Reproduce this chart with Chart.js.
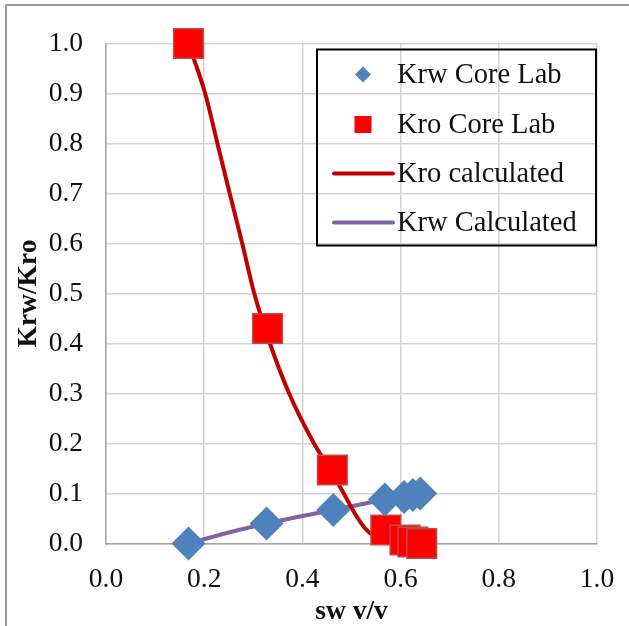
<!DOCTYPE html>
<html>
<head>
<meta charset="utf-8">
<script src="https://cdn.jsdelivr.net/npm/chart.js@4.4.1/dist/chart.umd.min.js"></script>
<style>
    html, body { margin: 0; padding: 0; background: #fff; overflow: hidden; }
    #wrap { position: relative; width: 629px; height: 626px; }
    #frame {
        position: absolute; left: 5px; top: 4px; width: 700px; height: 700px;
        border-top: 2px solid #9a9a9a; border-left: 2px solid #9a9a9a;
    }
    canvas { position: absolute; left: 0; top: 0; }
</style>
</head>
<body>
<div id="wrap">
    <div id="frame"></div>
    <canvas id="chart" width="629" height="626"></canvas>
</div>
<script>
// Core lab measurements
const swKrwLab = [0.168, 0.327, 0.463, 0.568, 0.607, 0.625, 0.640];
const krwLab = [0.000, 0.040, 0.067, 0.088, 0.093, 0.097, 0.100];
const swKroLab = [0.168, 0.329, 0.461, 0.570, 0.609, 0.625, 0.643];
const kroLab = [1.000, 0.430, 0.147, 0.027, 0.007, 0.003, 0.000];

// Calculated curves
const swKroCalc = [0.168, 0.202, 0.227, 0.252, 0.2775, 0.302, 0.334, 0.373, 0.4237, 0.455, 0.481, 0.508, 0.528, 0.548, 0.565];
const kroCalc = [1.000, 0.900, 0.800, 0.700, 0.600, 0.500, 0.400, 0.300, 0.200, 0.150, 0.106, 0.058, 0.030, 0.013, 0.005];
const swKrwCalc = [0.168, 0.250, 0.327, 0.400, 0.463, 0.568];
const krwCalc = [0.000, 0.022, 0.040, 0.055, 0.067, 0.088];

const xTicks = [0, 0.2, 0.4, 0.6, 0.8, 1.0];
const yTicks = [0, 0.1, 0.2, 0.3, 0.4, 0.5, 0.6, 0.7, 0.8, 0.9, 1.0];

const SERIES_NAMES = ['Krw Core Lab', 'Kro Core Lab', 'Kro calculated', 'Krw Calculated'];

const COLORS = {
    blue: '#4f81bd',
    red: '#ff0000',
    redBorder: '#be4b48',
    darkRed: '#c00000',
    purple: '#8064a2',
    grid: '#d4d4d4',
    axis: '#a6a6a6',
    text: '#111111'
};

const FONT = 'Liberation Serif, "Times New Roman", serif';

function toPoints(xs, ys) {
    return xs.map((x, i) => ({ x: x, y: ys[i] }));
}

// Legend box drawn inside the plot area, gridlines stay visible through it
const insideLegend = {
    id: 'insideLegend',
    afterDatasetsDraw(chart) {
        const ctx = chart.ctx;
        const area = chart.chartArea;
        const boxW = 279, boxH = 196;
        const left = area.right - 1 - boxW;
        const top = area.top + 6;
        ctx.save();
        ctx.strokeStyle = '#000';
        ctx.lineWidth = 2;
        ctx.strokeRect(left, top, boxW, boxH);

        const rows = [25, 75, 124, 173];
        const mx = left + 46;
        ctx.font = '28.5px ' + FONT;
        ctx.textBaseline = 'middle';
        ctx.textAlign = 'left';
        chart.data.datasets.forEach((ds, i) => {
            const y = top + rows[i];
            if (i === 0) {
                ctx.fillStyle = COLORS.blue;
                ctx.beginPath();
                ctx.moveTo(mx, y - 8);
                ctx.lineTo(mx + 8, y);
                ctx.lineTo(mx, y + 8);
                ctx.lineTo(mx - 8, y);
                ctx.closePath();
                ctx.fill();
            } else if (i === 1) {
                ctx.fillStyle = COLORS.red;
                ctx.fillRect(mx - 8.5, y - 8.5, 17, 17);
            } else {
                ctx.strokeStyle = ds.borderColor;
                ctx.lineWidth = 4;
                ctx.lineCap = 'round';
                ctx.beginPath();
                ctx.moveTo(left + 17, y);
                ctx.lineTo(left + 76, y);
                ctx.stroke();
            }
            ctx.fillStyle = COLORS.text;
            ctx.fillText(ds.label, left + 80, y + 1);
        });
        ctx.restore();
    }
};

new Chart(document.getElementById('chart'), {
    type: 'scatter',
    data: {
        datasets: [
            {
                label: SERIES_NAMES[0],
                data: toPoints(swKrwLab, krwLab),
                pointStyle: 'rectRot',
                pointRadius: 17,
                pointBackgroundColor: COLORS.blue,
                pointBorderColor: COLORS.blue,
                pointBorderWidth: 0,
                showLine: false,
                clip: false
            },
            {
                label: SERIES_NAMES[1],
                data: toPoints(swKroLab, kroLab),
                pointStyle: 'rect',
                pointRadius: 21,
                pointBackgroundColor: COLORS.red,
                pointBorderColor: COLORS.redBorder,
                pointBorderWidth: 1.5,
                showLine: false,
                clip: false
            },
            {
                label: SERIES_NAMES[2],
                data: toPoints(swKroCalc, kroCalc),
                showLine: true,
                pointRadius: 0,
                borderColor: COLORS.darkRed,
                borderWidth: 4,
                cubicInterpolationMode: 'monotone',
                clip: false
            },
            {
                label: SERIES_NAMES[3],
                data: toPoints(swKrwCalc, krwCalc),
                showLine: true,
                pointRadius: 0,
                borderColor: COLORS.purple,
                borderWidth: 4,
                cubicInterpolationMode: 'monotone',
                clip: false
            }
        ]
    },
    options: {
        responsive: false,
        animation: false,
        events: [],
        layout: {
            padding: { top: 43.5, right: 32, bottom: 0, left: 0 }
        },
        plugins: {
            legend: { display: false },
            tooltip: { enabled: false }
        },
        scales: {
            x: {
                type: 'linear',
                min: 0,
                max: 1,
                afterBuildTicks: (scale) => { scale.ticks = xTicks.map(v => ({ value: v })); },
                afterFit: (scale) => {
                    scale.height = 82.5;
                    scale.paddingLeft = 0;
                    scale.paddingRight = 0;
                },
                ticks: {
                    callback: (v) => v.toFixed(1),
                    font: { family: FONT, size: 27.5 },
                    color: COLORS.text,
                    padding: 20,
                    maxRotation: 0
                },
                grid: { color: COLORS.grid, lineWidth: 1.5, drawTicks: false },
                border: { color: COLORS.axis, width: 1.5 },
                title: {
                    display: true,
                    text: 'sw v/v',
                    font: { family: FONT, size: 27.5, weight: 'bold', lineHeight: 1 },
                    color: COLORS.text,
                    padding: { top: 0, bottom: 0 }
                }
            },
            y: {
                type: 'linear',
                min: 0,
                max: 1,
                afterBuildTicks: (scale) => { scale.ticks = yTicks.map(v => ({ value: v })); },
                afterFit: (scale) => {
                    scale.width = 106;
                    scale.paddingTop = 0;
                    scale.paddingBottom = 0;
                },
                ticks: {
                    callback: (v) => v.toFixed(1),
                    font: { family: FONT, size: 27.5 },
                    color: COLORS.text,
                    padding: 23
                },
                grid: { color: COLORS.grid, lineWidth: 1.5, drawTicks: false },
                border: { color: COLORS.axis, width: 1.5 },
                title: {
                    display: true,
                    text: 'Krw/Kro',
                    font: { family: FONT, size: 27.5, weight: 'bold' },
                    color: COLORS.text,
                    padding: { top: 12, bottom: 0 }
                }
            }
        }
    },
    plugins: [insideLegend]
});
</script>
</body>
</html>
